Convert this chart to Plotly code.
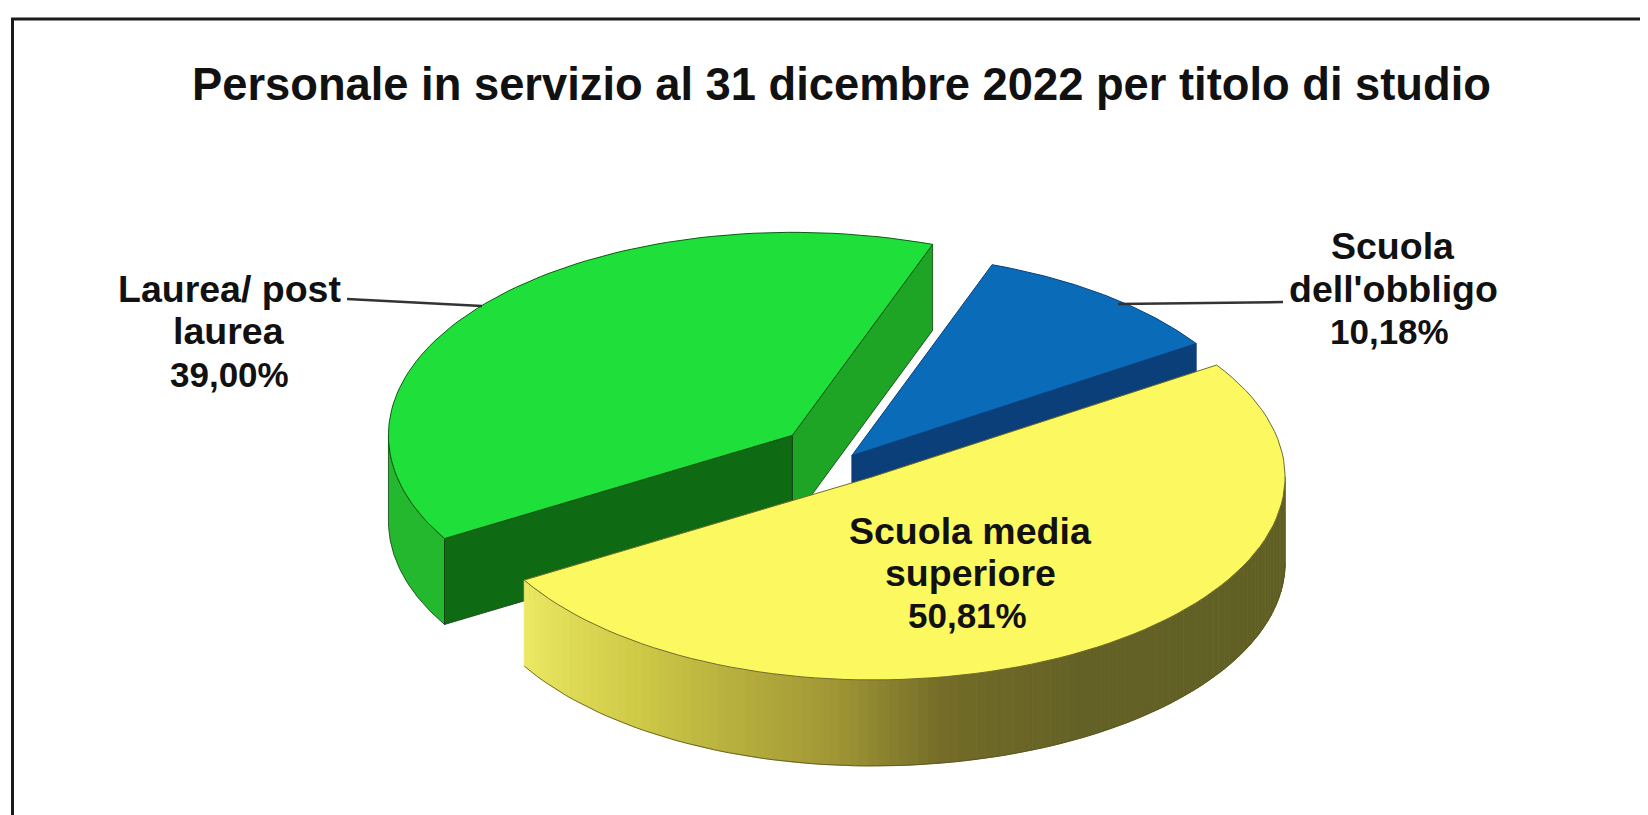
import numpy as np
import plotly.graph_objects as go

categories = ["Scuola dell'obbligo", "Scuola media superiore", "Laurea/ post laurea"]
values = [10.18, 50.81, 39.00]
value_labels = ["10,18%", "50,81%", "39,00%"]
title_text = "Personale in servizio al 31 dicembre 2022 per titolo di studio"

# drawing geometry of the tilted pie, in axis units (the axes span the page)
CX, CY, RX, RY, DEPTH = 848.0, 458.0, 413.0, 203.0, 86.0
LEFT_SQUEEZE = 0.978   # the far-left rim is slightly foreshortened in the reference
START_DEG = 33.5
pulls = [0.015, 0.11, 0.175]
top_colors = ["#0a6cb8", "#fbf95f", "#1fe03a"]

# slice angles follow from the values
blue_a0 = START_DEG
blue_a1 = blue_a0 + values[0] * 3.6
green_a0 = blue_a1
green_a1 = green_a0 + values[2] * 3.6
yellow_a0 = green_a1
yellow_a1 = yellow_a0 + values[1] * 3.6


def centre(a0, a1, pull):
    mid = np.radians((a0 + a1) / 2)
    return CX + pull * RX * np.cos(mid), CY - pull * RY * np.sin(mid)


def rim(c, deg, dz=0.0):
    t = np.radians(deg)
    cx = np.cos(t)
    return c[0] + RX * cx * np.where(cx < 0, LEFT_SQUEEZE, 1.0), c[1] - RY * np.sin(t) + dz


def arc(c, a0, a1, dz=0.0, n=90):
    return rim(c, np.linspace(a0, a1, n), dz)


fig = go.Figure()


def poly(xs, ys, fill, line=None, width=1.0):
    fig.add_trace(go.Scatter(x=list(xs), y=list(ys), mode="lines", fill="toself", fillcolor=fill,
                             line=dict(color=line or fill, width=width), hoverinfo="skip", showlegend=False))


def wedge(c, a0, a1, fill, edge):
    x, y = arc(c, a0, a1)
    poly(np.r_[c[0], x, c[0]], np.r_[c[1], y, c[1]], fill, edge, 1.0)


def wall(c, deg, fill):
    x, y = rim(c, deg)
    poly([c[0], x, x, c[0], c[0]], [c[1], y, y + DEPTH, c[1] + DEPTH, c[1]], fill, "#0b3d0e", 0.8)


def outer(c, a0, a1, fill, edge=None):
    x0, y0 = arc(c, a0, a1)
    x1, y1 = arc(c, a1, a0, DEPTH)
    poly(np.r_[x0, x1, x0[0]], np.r_[y0, y1, y0[0]], fill, edge, 0.8)


# green slice
cg = centre(green_a0, green_a1, pulls[2])
outer(cg, 180, green_a1, "#23b82e", "#0b3d0e")
wall(cg, green_a0, "#1ea526")
wall(cg, green_a1, "#0f6a14")
wedge(cg, green_a0, green_a1, top_colors[2], "#0d5a12")

# blue slice
cb = centre(blue_a0, blue_a1, pulls[0])
x, y = rim(cb, blue_a0)
poly([cb[0], x, x, cb[0], cb[0]], [cb[1], y, y + DEPTH, cb[1] + DEPTH, cb[1]], "#0a3f7a", "#0a3f7a", 0.8)
wedge(cb, blue_a0, blue_a1, top_colors[0], "#0a3f7a")

# yellow slice: the outer wall is shaded strip by strip
cy = centre(yellow_a0, yellow_a1, pulls[1])
stops_deg = np.array([yellow_a0, 234, 250, 265, 280, 300, 360])
stops_rgb = np.array([[236, 234, 100], [208, 203, 72], [184, 176, 62], [160, 150, 54],
                      [116, 108, 40], [100, 98, 38], [96, 96, 36]], dtype=float)
edges = np.linspace(yellow_a0, 360, 110)
for a, b in zip(edges[:-1], edges[1:]):
    m = (a + b) / 2
    rgb = [np.interp(m, stops_deg, stops_rgb[:, k]) for k in range(3)]
    outer(cy, a, b, "rgb(%d,%d,%d)" % tuple(rgb))
x0, y0 = arc(cy, yellow_a0, 360, DEPTH)
fig.add_trace(go.Scatter(x=x0, y=y0, mode="lines", line=dict(color="#55521c", width=0.8),
                         hoverinfo="skip", showlegend=False))
wedge(cy, yellow_a0, yellow_a1, top_colors[1], "#6e6c2a")

# leader lines
for lx, ly in (([1118, 1283], [304, 302]), ([347, 482], [299, 306])):
    fig.add_trace(go.Scatter(x=lx, y=ly, mode="lines", line=dict(color="#333333", width=2.5),
                             hoverinfo="skip", showlegend=False))

fig.update_layout(
    width=1640, height=807, autosize=False,
    margin=dict(l=0, r=0, t=0, b=0),
    paper_bgcolor="white", plot_bgcolor="white",
    # the page keeps its 8 px body margin, so the axes start 8 units in
    xaxis=dict(range=[8, 1648], visible=False, fixedrange=True),
    yaxis=dict(range=[815, 8], visible=False, fixedrange=True),
    shapes=[dict(type="rect", xref="x", yref="y", x0=12.5, x1=1800, y0=19, y1=1000,
                 line=dict(color="#1a1a1a", width=3))],
)
fig.add_annotation(x=841, y=84, xref="x", yref="y", text="<b>%s</b>" % title_text, showarrow=False,
                   font=dict(family="Liberation Sans", size=45.3, color="#111111"),
                   xanchor="center", yanchor="middle")


def label(x, ys, lines, value, value_x):
    # each line is placed on its own: the reference's leading is tighter than the browser's default
    for y, text in zip(ys, lines):
        fig.add_annotation(x=x, y=y, xref="x", yref="y", text="<b>%s</b>" % text, showarrow=False,
                           font=dict(family="Liberation Sans", size=37.5, color="#111111"),
                           align="center", xanchor="center", yanchor="middle")
    fig.add_annotation(x=value_x, y=ys[2], xref="x", yref="y", text="<b>%s</b>" % value, showarrow=False,
                       font=dict(family="Liberation Sans", size=35, color="#111111"),
                       align="center", xanchor="center", yanchor="middle")


label(1393, [246, 289, 331], ["Scuola", "dell'obbligo"], value_labels[0], 1389)
label(970, [531, 573, 615], ["Scuola media", "superiore"], value_labels[1], 967)
label(229, [289, 331, 374], ["Laurea/ post", "laurea"], value_labels[2], 229)

fig.write_html("out.html")
